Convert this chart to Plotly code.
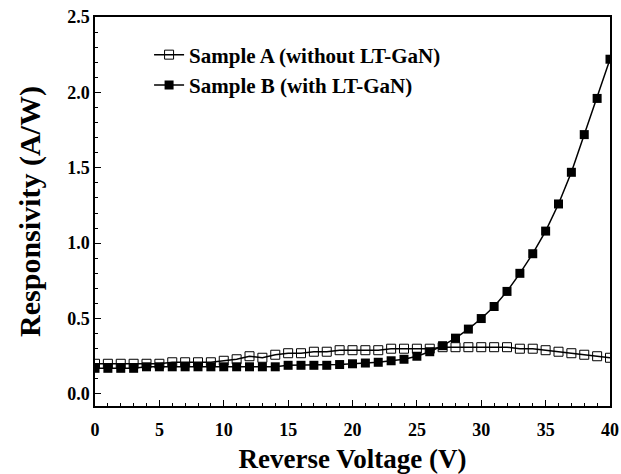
import plotly.graph_objects as go

voltage = list(range(0, 41))
sample_a = [0.20, 0.20, 0.20, 0.20, 0.20, 0.20, 0.21, 0.21, 0.21, 0.21,
            0.22, 0.23, 0.25, 0.24, 0.26, 0.27, 0.27, 0.28, 0.28, 0.29,
            0.29, 0.29, 0.29, 0.30, 0.30, 0.30, 0.30, 0.31, 0.31, 0.31,
            0.31, 0.31, 0.31, 0.30, 0.30, 0.29, 0.28, 0.27, 0.26, 0.25,
            0.24]
sample_b = [0.17, 0.17, 0.17, 0.17, 0.18, 0.18, 0.18, 0.18, 0.18, 0.18,
            0.18, 0.18, 0.18, 0.18, 0.18, 0.19, 0.19, 0.19, 0.19, 0.195,
            0.20, 0.205, 0.21, 0.22, 0.23, 0.25, 0.28, 0.32, 0.37, 0.43,
            0.50, 0.58, 0.68, 0.80, 0.93, 1.08, 1.26, 1.47, 1.72, 1.96,
            2.22]
x_ticks = [0, 5, 10, 15, 20, 25, 30, 35, 40]
y_ticks = [0.0, 0.5, 1.0, 1.5, 2.0, 2.5]

font_family = "Liberation Serif"

fig = go.Figure()
fig.add_trace(go.Scatter(
    x=voltage, y=sample_a, mode="lines+markers",
    name="<b>Sample A (without LT-GaN)</b>",
    line=dict(color="black", width=1.5),
    marker=dict(symbol="square-open", size=9, color="black", line=dict(width=1))))
fig.add_trace(go.Scatter(
    x=voltage, y=sample_b, mode="lines+markers",
    name="<b>Sample B (with LT-GaN)</b>",
    line=dict(color="black", width=1.5),
    marker=dict(symbol="square", size=9, color="black")))

fig.update_layout(
    width=621, height=474,
    margin=dict(l=95, r=11, t=17, b=68, autoexpand=False),
    paper_bgcolor="white", plot_bgcolor="white",
    font=dict(family=font_family, color="black", size=14),
    legend=dict(x=0.105, y=0.955, xanchor="left", yanchor="top",
                bgcolor="rgba(0,0,0,0)", font=dict(size=21, family=font_family),
                tracegroupgap=0),
    showlegend=True,
)
fig.update_xaxes(
    range=[0, 40], tickvals=x_ticks, ticktext=[f"<b>{v}</b>" for v in x_ticks],
    ticks="inside", ticklen=6, tickwidth=1.2, tickcolor="black",
    minor=dict(ticks="inside", ticklen=3, dtick=1, tickcolor="black", tickwidth=1),
    showline=True, linecolor="black", linewidth=1.5, mirror=True,
    showgrid=False, zeroline=False, automargin=False,
    tickfont=dict(size=18), ticklabelstandoff=7,
    title=dict(text="<b>Reverse Voltage (V)</b>", font=dict(size=27), standoff=10),
)
fig.update_yaxes(
    range=[-0.08, 2.5], tickvals=y_ticks, ticktext=[f"<b>{v:.1f}</b>" for v in y_ticks],
    ticks="inside", ticklen=6, tickwidth=1.2, tickcolor="black",
    minor=dict(ticks="inside", ticklen=3, dtick=0.1, tickcolor="black", tickwidth=1),
    showline=True, linecolor="black", linewidth=1.5, mirror=True,
    showgrid=False, zeroline=False, automargin=False,
    tickfont=dict(size=18),
    title=dict(text="<b>Responsivity (A/W)</b>", font=dict(size=30), standoff=18),
)

fig.write_html("out.html")
